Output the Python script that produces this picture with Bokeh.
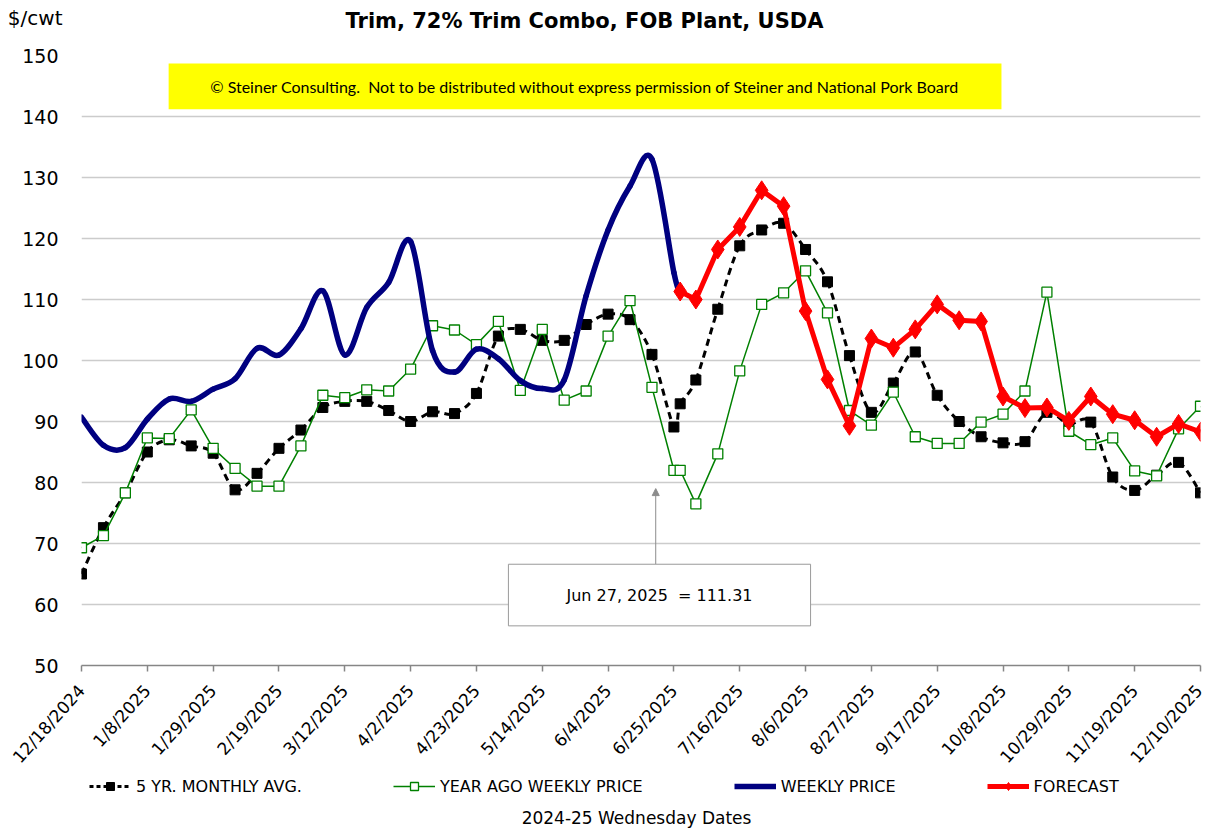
import math
import pandas as pd
from bokeh.plotting import figure
from bokeh.layouts import column
from bokeh.models import (ColumnDataSource, FixedTicker, Legend, LegendItem, Label,
                          BoxAnnotation, Arrow, NormalHead, Range1d)
from bokeh.embed import file_html
from bokeh.resources import INLINE

# ---------------- data ----------------
dates = [
    "2024-12-18", "2024-12-25", "2025-01-01", "2025-01-08", "2025-01-15", "2025-01-22",
    "2025-01-29", "2025-02-05", "2025-02-12", "2025-02-19", "2025-02-26", "2025-03-05",
    "2025-03-12", "2025-03-19", "2025-03-26", "2025-04-02", "2025-04-09", "2025-04-16",
    "2025-04-23", "2025-04-30", "2025-05-07", "2025-05-14", "2025-05-21", "2025-05-28",
    "2025-06-04", "2025-06-11", "2025-06-18", "2025-06-25", "2025-06-27", "2025-07-02",
    "2025-07-09", "2025-07-16", "2025-07-23", "2025-07-30", "2025-08-06", "2025-08-13",
    "2025-08-20", "2025-08-27", "2025-09-03", "2025-09-10", "2025-09-17", "2025-09-24",
    "2025-10-01", "2025-10-08", "2025-10-15", "2025-10-22", "2025-10-29", "2025-11-05",
    "2025-11-12", "2025-11-19", "2025-11-26", "2025-12-03", "2025-12-10",
]
NA = float("nan")
five_yr_avg = [65.0, 72.6, 78.3, 85.0, 87.0, 86.0, 84.8, 78.8, 81.5, 85.6,
               88.6, 92.3, 93.3, 93.3, 91.8, 90.0, 91.6, 91.3, 94.6, 104.0,
               105.1, 103.3, 103.3, 105.9, 107.6, 106.7, 101.0, 89.1, 92.9,
               96.8, 108.4, 118.8, 121.4, 122.5, 118.2, 112.9, 100.8, 91.5, 96.3,
               101.4, 94.3, 90.0, 87.5, 86.5, 86.7, 91.5, 89.6, 89.9, 80.9,
               78.7, 81.2, 83.3, 78.3]
year_ago = [69.3, 71.3, 78.3, 87.3, 87.2, 91.9, 85.6, 82.3, 79.4, 79.4,
            86.0, 94.3, 93.9, 95.2, 95.0, 98.6, 105.7, 105.0, 102.6, 106.4,
            95.1, 105.1, 93.5, 95.0, 104.0, 109.8, 95.6, 82.0, 82.0,
            76.5, 84.7, 98.3, 109.2, 111.1, 114.7, 107.8, 91.8, 89.4, 94.8,
            87.5, 86.4, 86.4, 89.9, 91.2, 95.0, 111.2, 88.4, 86.2, 87.3,
            81.9, 81.1, 88.8, 92.5]
weekly_price = [90.7, 86.1, 85.7, 90.4, 93.7, 93.3, 95.3, 97.0, 102.0, 100.9,
                105.2, 111.4, 100.9, 108.7, 112.8, 119.5, 101.6, 98.1, 101.85, 100.3,
                96.7, 95.4, 96.8, 110.6, 121.4, 128.6, 133.0, 114.4, 111.31] + [NA] * 24
forecast = [NA] * 28 + [111.31,
            110.0, 118.2, 121.9, 127.9, 125.3, 108.1, 96.9, 89.3, 103.6, 102.1,
            105.1, 109.2, 106.6, 106.4, 94.1, 92.2, 92.3, 90.1, 94.1, 91.2,
            90.2, 87.5, 89.6, 88.3]
tick_dates = ["2024-12-18", "2025-01-08", "2025-01-29", "2025-02-19", "2025-03-12",
              "2025-04-02", "2025-04-23", "2025-05-14", "2025-06-04", "2025-06-25",
              "2025-07-16", "2025-08-06", "2025-08-27", "2025-09-17", "2025-10-08",
              "2025-10-29", "2025-11-19", "2025-12-10"]
legend_labels = ["5 YR. MONTHLY AVG.", "YEAR AGO WEEKLY PRICE", "WEEKLY PRICE", "FORECAST"]
title_text = "Trim, 72% Trim Combo, FOB Plant, USDA"
unit_text = "$/cwt"
xtitle_text = "2024-25 Wednesday Dates"
note_text = ("\u00a9 Steiner Consulting.\u00a0 Not to be distributed without express "
             "permission of Steiner and National Pork Board")
callout_text = "Jun 27, 2025 \u00a0= 111.31"

# ---------------- helpers ----------------
start = pd.Timestamp(dates[0])
days = [(pd.Timestamp(d) - start).days for d in dates]
tick_days = [(pd.Timestamp(d) - start).days for d in tick_dates]
tick_labels = {t: f"{pd.Timestamp(d).month}/{pd.Timestamp(d).day}/{pd.Timestamp(d).year}"
               for t, d in zip(tick_days, tick_dates)}


def smooth(xs, ys):
    """Bezier control points (Catmull-Rom style) for a smoothed line through the data."""
    pts = [(x, y) for x, y in zip(xs, ys) if not math.isnan(y)]
    n = len(pts)
    out = {k: [] for k in ("x0", "y0", "x1", "y1", "cx0", "cy0", "cx1", "cy1")}
    for i in range(n - 1):
        p0 = pts[i - 1] if i > 0 else pts[i]
        p1, p2 = pts[i], pts[i + 1]
        p3 = pts[i + 2] if i + 2 < n else pts[i + 1]
        out["x0"].append(p1[0]); out["y0"].append(p1[1])
        out["x1"].append(p2[0]); out["y1"].append(p2[1])
        out["cx0"].append(p1[0] + (p2[0] - p0[0]) / 6.0)
        out["cy0"].append(p1[1] + (p2[1] - p0[1]) / 6.0)
        out["cx1"].append(p2[0] - (p3[0] - p1[0]) / 6.0)
        out["cy1"].append(p2[1] - (p3[1] - p1[1]) / 6.0)
    return ColumnDataSource(out)


FONT = "DejaVu Sans"
NAVY = "#000080"
GREEN = "#008000"
RED = "#FF0000"
LEFT, RIGHT_PAD = 81, 6
FRAME_W, FRAME_H = 1119, 612
W = LEFT + FRAME_W + RIGHT_PAD
TOP_H, MAIN_TOP, MAIN_BOTTOM, BOT_H = 40, 15, 109, 52


def strip(height, with_yaxis=False):
    f = figure(width=W, height=height, output_backend="svg", toolbar_location=None,
               x_range=Range1d(LEFT, LEFT + FRAME_W), y_range=Range1d(height, 0),
               x_axis_location=None, y_axis_location="left" if with_yaxis else None,
               min_border_left=LEFT, min_border_right=RIGHT_PAD,
               min_border_top=0, min_border_bottom=0)
    f.outline_line_color = None
    f.grid.grid_line_color = None
    f.background_fill_color = "white"
    f.border_fill_color = "white"
    return f


# ---------------- top strip: unit + title ----------------
top = strip(TOP_H, with_yaxis=True)
top.yaxis.ticker = FixedTicker(ticks=[17])
top.yaxis.major_label_overrides = {17: unit_text}
top.yaxis.axis_line_color = None
top.yaxis.major_tick_line_color = None
top.yaxis.minor_tick_line_color = None
top.yaxis.major_label_standoff = 13
top.yaxis.major_label_text_font = FONT
top.yaxis.major_label_text_font_size = "20px"
top.yaxis.major_label_text_color = "black"
top.add_layout(Label(x=584, y=20, text=title_text, text_font=FONT, text_font_size="21px",
                     text_font_style="bold", text_align="center", text_baseline="middle",
                     text_color="black"))

# ---------------- main chart ----------------
src = ColumnDataSource(dict(x=days, avg=five_yr_avg, ya=year_ago, wk=weekly_price, fc=forecast))

p = figure(width=W, height=MAIN_TOP + FRAME_H + MAIN_BOTTOM, output_backend="svg",
           toolbar_location=None,
           x_range=Range1d(0, tick_days[-1]), y_range=Range1d(50, 150),
           min_border_left=LEFT, min_border_right=RIGHT_PAD, min_border_top=MAIN_TOP,
           min_border_bottom=MAIN_BOTTOM)
p.outline_line_color = None
p.background_fill_color = "white"
p.border_fill_color = "white"

p.yaxis.ticker = FixedTicker(ticks=list(range(50, 151, 10)))
p.yaxis.axis_line_color = None
p.yaxis.major_tick_line_color = None
p.yaxis.minor_tick_line_color = None
p.yaxis.major_label_text_font = FONT
p.yaxis.major_label_text_font_size = "19px"
p.yaxis.major_label_text_color = "black"
p.yaxis.major_label_standoff = 17

p.xaxis.ticker = FixedTicker(ticks=tick_days)
p.xaxis.major_label_overrides = tick_labels
p.xaxis.major_label_orientation = math.radians(48)
p.xaxis.axis_line_color = "#868686"
p.xaxis.axis_line_width = 1.5
p.xaxis.major_tick_line_color = "#868686"
p.xaxis.major_tick_line_width = 1.5
p.xaxis.major_tick_out = 6
p.xaxis.major_tick_in = 0
p.xaxis.minor_tick_line_color = None
p.xaxis.major_label_text_font = FONT
p.xaxis.major_label_text_font_size = "17px"
p.xaxis.major_label_text_color = "black"
p.xaxis.major_label_standoff = 16

p.xgrid.grid_line_color = None
p.ygrid.grid_line_color = "#cccccc"
p.ygrid.grid_line_width = 1.5

p.bezier("x0", "y0", "x1", "y1", "cx0", "cy0", "cx1", "cy1",
         source=smooth(days, five_yr_avg), line_color="black", line_width=3,
         line_dash="7 5")
p.scatter("x", "avg", source=src, marker="square", size=10, color="black")

p.line("x", "ya", source=src, line_color=GREEN, line_width=1.5)
p.scatter("x", "ya", source=src, marker="square", size=10, line_color=GREEN,
          fill_color="white", line_width=1.3)

p.bezier("x0", "y0", "x1", "y1", "cx0", "cy0", "cx1", "cy1",
         source=smooth(days, weekly_price), line_color=NAVY, line_width=5.5,
         line_cap="round")

p.line("x", "fc", source=src, line_color=RED, line_width=5, line_join="round")
p.scatter("x", "fc", source=src, marker="diamond", size=19, color=RED)

p.add_layout(BoxAnnotation(left=27.8, right=293.5, bottom=141.2, top=148.7,
                           fill_color="#FFFF00", fill_alpha=1, line_color=None))
p.add_layout(Label(x=160.6, y=144.9, text=note_text, text_font="Lato",
                   text_font_size="16px", text_align="center", text_baseline="middle",
                   text_color="black"))

p.add_layout(Arrow(x_start=183.2, y_start=66.6, x_end=183.2, y_end=79.0,
                   line_color="#8c8c8c", line_width=1,
                   end=NormalHead(size=7, fill_color="#8c8c8c", line_color="#8c8c8c")))
p.add_layout(BoxAnnotation(left=136.2, right=232.6, bottom=56.5, top=66.6,
                           fill_color="white", fill_alpha=1, line_color="#9a9a9a",
                           line_width=1, line_alpha=1))
p.add_layout(Label(x=184.4, y=61.5, text=callout_text, text_font=FONT,
                   text_font_size="16px", text_align="center", text_baseline="middle",
                   text_color="black"))

# ---------------- bottom strip: legend + x title ----------------
bot = strip(BOT_H)
# legend key styles (a single empty point each, so nothing is drawn in the strip)
g1 = bot.line([NA], [NA], line_color="black", line_width=3, line_dash="4 3")
m1 = bot.scatter([NA], [NA], marker="square", size=9, color="black")
g2 = bot.line([NA], [NA], line_color=GREEN, line_width=1.5)
m2 = bot.scatter([NA], [NA], marker="square", size=9, line_color=GREEN, fill_color="white",
                 line_width=1.3)
g3 = bot.line([NA], [NA], line_color=NAVY, line_width=5.5)
g4 = bot.line([NA], [NA], line_color=RED, line_width=5)
m4 = bot.scatter([NA], [NA], marker="diamond", size=12, color=RED)

legend = Legend(items=[LegendItem(label=legend_labels[0], renderers=[g1, m1]),
                       LegendItem(label=legend_labels[1], renderers=[g2, m2]),
                       LegendItem(label=legend_labels[2], renderers=[g3]),
                       LegendItem(label=legend_labels[3], renderers=[g4, m4])],
                location=(8, BOT_H - 20), orientation="horizontal", spacing=91,
                glyph_width=42, glyph_height=20, label_standoff=5, padding=0, margin=0,
                border_line_color=None, background_fill_alpha=0,
                label_text_font=FONT, label_text_font_size="16px",
                label_text_color="black")
bot.add_layout(legend)
bot.add_layout(Label(x=636, y=41, text=xtitle_text, text_font=FONT, text_font_size="17px",
                     text_align="center", text_baseline="middle", text_color="black"))

layout = column(top, p, bot, spacing=0)
open("out.html", "w").write(file_html(layout, INLINE))
